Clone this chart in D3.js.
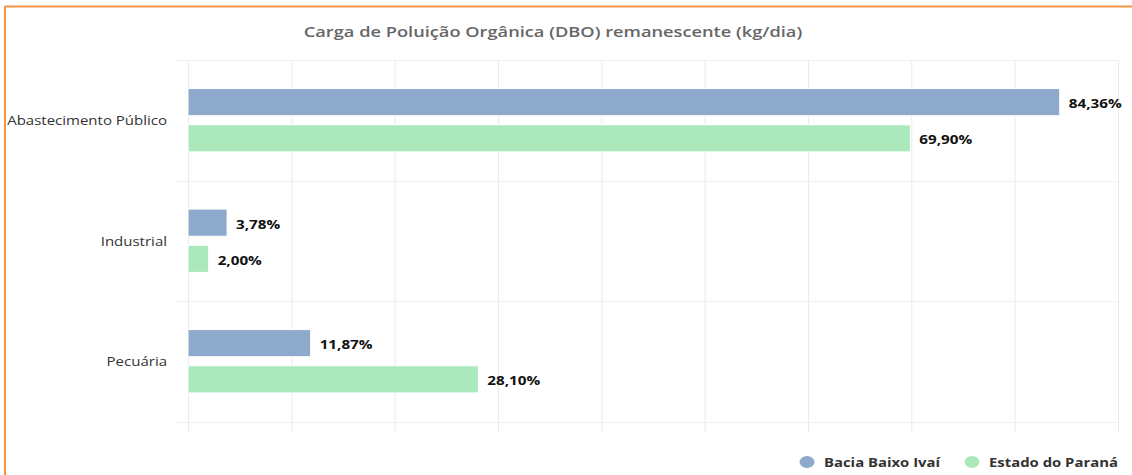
<!DOCTYPE html>
<html><head><meta charset="utf-8">
<script src="https://cdn.jsdelivr.net/npm/d3@7"></script>
<style>
html,body{margin:0;padding:0;background:#fff;overflow:hidden}
svg text{font-family:"Open Sans",sans-serif}
</style></head>
<body><svg id="c" width="1132" height="475"></svg>
<script>
const title = "Carga de Poluição Orgânica (DBO) remanescente (kg/dia)";
const categories = ["Abastecimento Público", "Industrial", "Pecuária"];
const seriesNames = ["Bacia Baixo Ivaí", "Estado do Paraná"];
const baciaValues = [84.36, 3.78, 11.87];
const paranaValues = [69.90, 2.00, 28.10];
const valueLabels = [["84,36%","3,78%","11,87%"],["69,90%","2,00%","28,10%"]];
const xTicks = [0,10,20,30,40,50,60,70,80,90];
const colors = ["#8da9cc", "#abe9bd"];
const SX = 1.2; // horizontal text stretch of the reference

const svg = d3.select("#c");
function stretch(sel){ sel.each(function(){ const w=this.getComputedTextLength(); this.setAttribute("textLength", w*SX); this.setAttribute("lengthAdjust","spacingAndGlyphs"); }); }

// border
svg.append("line").attr("x1",5).attr("x2",1132).attr("y1",6.5).attr("y2",6.5).attr("stroke","#f39545").attr("stroke-width",2);
svg.append("line").attr("x1",5).attr("x2",5).attr("y1",6).attr("y2",475).attr("stroke","#f39545").attr("stroke-width",2);

const x = d3.scaleLinear().domain([0,90]).range([188,1118]);
const y = d3.scaleBand().domain(categories).range([60,421.5]);
const yi = d3.scaleBand().domain(seriesNames).range([0,y.bandwidth()]).paddingInner(0.25).paddingOuter(0.79);

// vertical grid via axis
const gx = svg.append("g").attr("transform","translate(0,433)")
  .call(d3.axisBottom(x).tickValues(xTicks).tickSize(-373).tickFormat(""));
gx.select(".domain").remove();
gx.selectAll(".tick line").attr("stroke","#ebebeb").attr("stroke-width",1);

// horizontal category separators
const bounds = categories.map(c=>y(c)).concat([y.range()[1]]);
svg.append("g").selectAll("line").data(bounds).join("line")
  .attr("x1",175).attr("x2",1119).attr("y1",d=>Math.round(d)+0.5).attr("y2",d=>Math.round(d)+0.5)
  .attr("stroke","#efefef");

// category labels
const gy = svg.append("g").attr("transform","translate(188,0)")
  .call(d3.axisLeft(y).tickSize(0).tickPadding(21));
gy.select(".domain").remove();
gy.selectAll("text").attr("font-size",12.5).attr("fill","#333").attr("dy","0.38em").call(stretch);

// bars
const series = [baciaValues, paranaValues];
series.forEach((vals,si)=>{
  const g = svg.append("g");
  g.selectAll("rect").data(vals).join("rect")
    .attr("x",x(0)).attr("y",(d,i)=>y(categories[i])+yi(seriesNames[si]))
    .attr("width",d=>x(d)-x(0)).attr("height",yi.bandwidth())
    .attr("fill",colors[si]).attr("stroke","#fff").attr("stroke-width",1);
  g.selectAll("text").data(vals).join("text")
    .attr("x",d=>x(d)+9).attr("y",(d,i)=>y(categories[i])+yi(seriesNames[si])+yi.bandwidth()/2)
    .attr("dy","0.48em").attr("font-size",12.7).attr("font-weight",700).attr("fill","#111")
    .text((d,i)=>valueLabels[si][i]).call(stretch);
});

// title
svg.append("text").attr("x",553).attr("y",37).attr("text-anchor","middle")
  .attr("font-size",15.2).attr("font-weight",600).attr("fill","#666").text(title).call(stretch);

// legend
const lx = [807, 972];
seriesNames.forEach((s,i)=>{
  svg.append("ellipse").attr("cx",lx[i]).attr("cy",462).attr("rx",7.5).attr("ry",6).attr("fill",colors[i]);
  svg.append("text").attr("x",lx[i]+17).attr("y",462).attr("dy","0.38em").attr("font-size",12.4)
    .attr("font-weight",700).attr("fill","#333").text(s).call(stretch);
});
</script>
</body></html>
